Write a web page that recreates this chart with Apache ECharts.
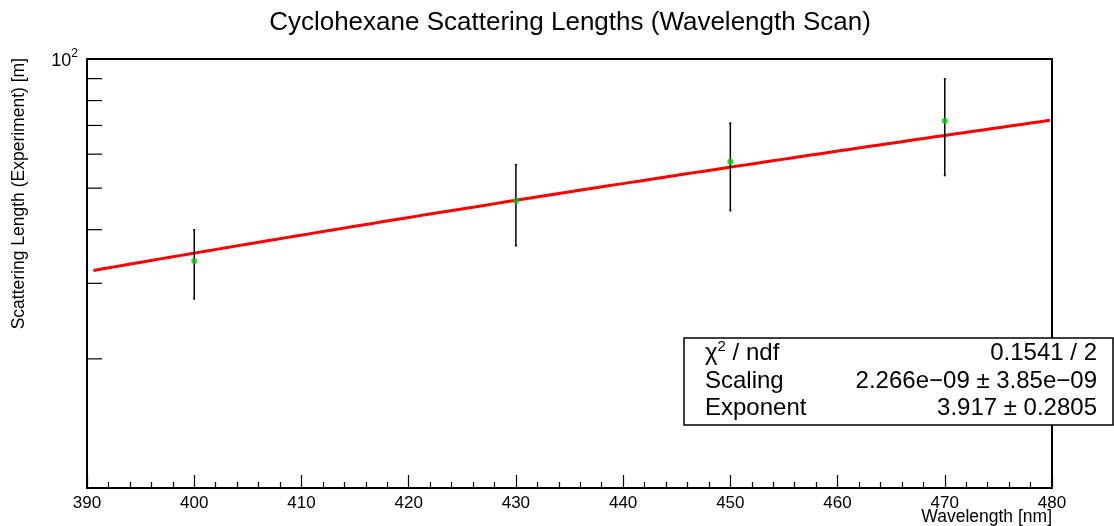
<!DOCTYPE html>
<html>
<head>
<meta charset="utf-8">
<script src="https://cdn.jsdelivr.net/npm/echarts@6/dist/echarts.min.js"></script>
<style>
  html, body { margin: 0; padding: 0; background: #fff; }
  #chart { width: 1114px; height: 526px; }
</style>
</head>
<body>
<div id="chart"></div>
<script>
// Measured scattering lengths per wavelength
const wavelengths = [400, 430, 450, 470];
const lengths = [33.8, 46.7, 57.6, 71.7];
const lengthErrors = [6.2, 10.0, 13.3, 18.2];

// Power-law fit: L = Scaling * lambda^Exponent
const fitScaling = 2.266e-9;
const fitExponent = 3.917;
const fitRange = [390.6, 479.8];
const statsRows = [
  ['{n|χ}{s|2}{n| / ndf}', '0.1541 / 2'],
  ['Scaling', '2.266e−09 ± 3.85e−09'],
  ['Exponent', '3.917 ± 0.2805']
];

// y-axis ticks drawn at 20..90 on the log axis
const yMinorTicks = [20, 30, 40, 50, 60, 70, 80, 90];

const FONT = 'Liberation Sans, Arial, sans-serif';

const fitCurve = [];
for (let i = 0; i <= 100; i++) {
  const x = fitRange[0] + (fitRange[1] - fitRange[0]) * i / 100;
  fitCurve.push([x, fitScaling * Math.pow(x, fitExponent)]);
}

const points = wavelengths.map((w, i) => [w, lengths[i], lengthErrors[i]]);

const chart = echarts.init(document.getElementById('chart'));

const statsTop = 338, statsLeft = 684, statsRight = 1113, statsBottom = 425;
const rowY = [353, 381, 408];
const statsGraphics = [{
  type: 'rect',
  shape: { x: statsLeft, y: statsTop, width: statsRight - statsLeft, height: statsBottom - statsTop },
  style: { fill: '#fff', stroke: '#000', lineWidth: 1.5 },
  z: 100
}];
statsRows.forEach((r, i) => {
  statsGraphics.push({
    type: 'text', x: 705, y: rowY[i], z: 101,
    style: {
      text: r[0], fontFamily: FONT, fontSize: 24, fill: '#000',
      align: 'left', verticalAlign: 'middle',
      rich: {
        n: { fontFamily: FONT, fontSize: 24, fill: '#000' },
        s: { fontFamily: FONT, fontSize: 15, fill: '#000', verticalAlign: 'top', padding: [0, 0, 12, 0] }
      }
    }
  });
  statsGraphics.push({
    type: 'text', x: 1097, y: rowY[i], z: 101,
    style: { text: r[1], fontFamily: FONT, fontSize: 24, fill: '#000', align: 'right', verticalAlign: 'middle' }
  });
});

chart.setOption({
  animation: false,
  backgroundColor: '#fff',
  grid: { left: 87, right: 62, top: 59, bottom: 38, show: true, borderColor: '#000', borderWidth: 2, backgroundColor: 'transparent' },
  xAxis: {
    type: 'value', min: 390, max: 480, interval: 10,
    axisLine: { onZero: false, lineStyle: { color: '#000', width: 2 } },
    axisTick: { inside: true, length: 13, lineStyle: { color: '#000', width: 1.2 } },
    minorTick: { show: true, splitNumber: 5, length: 6, lineStyle: { color: '#000', width: 1.2 } },
    axisLabel: { color: '#000', fontFamily: FONT, fontSize: 17, margin: 7 },
    splitLine: { show: false }
  },
  yAxis: {
    type: 'log', logBase: 10, min: 10, max: 100,
    axisLine: { lineStyle: { color: '#000', width: 2 } },
    axisTick: { show: false },
    splitLine: { show: false },
    axisLabel: {
      color: '#000', fontFamily: FONT, fontSize: 18, margin: 9,
      formatter: v => (Math.abs(v - 100) < 1e-6 ? '{b|10}{s|2}' : ''),
      rich: {
        b: { fontFamily: FONT, fontSize: 18, color: '#000', padding: [4, 0, 0, 0] },
        s: { fontFamily: FONT, fontSize: 12, color: '#000', verticalAlign: 'top', padding: [0, 0, 8, 0] }
      }
    }
  },
  series: [
    {
      // y-axis tick marks on the log scale
      type: 'custom', silent: true, z: 5,
      data: yMinorTicks.map(v => [390, v]),
      renderItem: (params, api) => {
        const p = api.coord([api.value(0), api.value(1)]);
        return { type: 'line', shape: { x1: p[0], y1: p[1], x2: p[0] + 15, y2: p[1] }, style: { stroke: '#000', lineWidth: 1.2 } };
      }
    },
    {
      type: 'line', data: fitCurve, showSymbol: false, smooth: false,
      lineStyle: { color: '#ff0000', width: 3 }, z: 3
    },
    {
      // error bars
      type: 'custom', z: 4,
      data: points,
      renderItem: (params, api) => {
        const x = api.value(0), v = api.value(1), e = api.value(2);
        const top = api.coord([x, v + e]);
        const bot = api.coord([x, v - e]);
        return {
          type: 'group', children: [
            { type: 'line', shape: { x1: top[0], y1: top[1], x2: bot[0], y2: bot[1] }, style: { stroke: '#000', lineWidth: 1.5 } },
            { type: 'line', shape: { x1: top[0] - 1, y1: top[1], x2: top[0] + 1, y2: top[1] }, style: { stroke: '#000', lineWidth: 1.5 } },
            { type: 'line', shape: { x1: bot[0] - 1, y1: bot[1], x2: bot[0] + 1, y2: bot[1] }, style: { stroke: '#000', lineWidth: 1.5 } }
          ]
        };
      }
    },
    {
      type: 'scatter', data: points.map(p => [p[0], p[1]]), symbol: 'circle', symbolSize: 6,
      itemStyle: { color: '#00cc00' }, z: 6
    }
  ],
  graphic: [
    {
      type: 'text', x: 570, y: 23,
      style: { text: 'Cyclohexane Scattering Lengths (Wavelength Scan)', fontFamily: FONT, fontSize: 26, fill: '#000', align: 'center', verticalAlign: 'middle' }
    },
    {
      type: 'text', x: 1052, y: 517,
      style: { text: 'Wavelength [nm]', fontFamily: FONT, fontSize: 17.5, fill: '#000', align: 'right', verticalAlign: 'middle' }
    },
    {
      type: 'text', x: 19, y: 58, rotation: Math.PI / 2,
      style: { text: 'Scattering Length (Experiment) [m]', fontFamily: FONT, fontSize: 17.5, fill: '#000', align: 'right', verticalAlign: 'middle' }
    }
  ].concat(statsGraphics)
});
</script>
</body>
</html>
